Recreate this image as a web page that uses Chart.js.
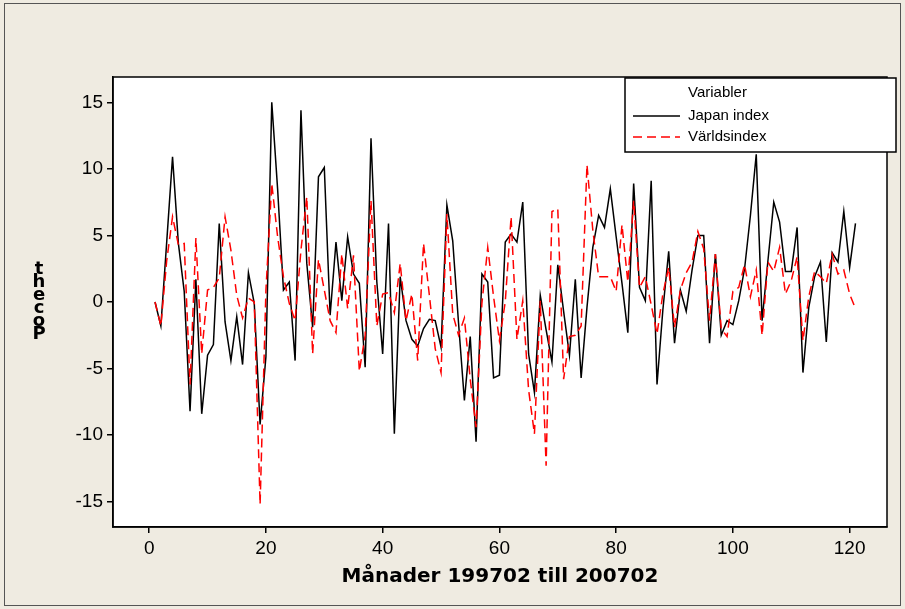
<!DOCTYPE html>
<html>
<head>
<meta charset="utf-8">
<script src="https://cdn.jsdelivr.net/npm/chart.js@4.4.0/dist/chart.umd.min.js"></script>
<style>
  html, body { margin: 0; padding: 0; background: #efebe1; }
  #wrap { width: 905px; height: 609px; }
</style>
</head>
<body>
<div id="wrap"><canvas id="chart" width="905" height="609"></canvas></div>
<script>
// ---------------- DATA ----------------
const months = Array.from({ length: 121 }, (_, i) => i + 1);

const japanIndex = [
  0, -1.8, 4.5, 10.9, 4.4, 0.8, -8.2, 1.7, -8.4, -4.0,
  -3.2, 5.9, -1.5, -4.4, -1.1, -4.7, 2.2, -0.1, -9.2, -4.1,
  15.0, 8.5, 0.9, 1.5, -4.4, 14.4, 2.9, -1.9, 9.4, 10.1,
  -1.0, 4.5, 0.1, 4.9, 2.1, 1.4, -4.9, 12.3, 1.5, -3.9,
  5.9, -9.9, 1.9, -1.4, -2.8, -3.3, -2.0, -1.3, -1.4, -3.4,
  7.3, 4.6, -1.6, -7.4, -2.6, -10.5, 2.1, 1.5, -5.7, -5.5,
  4.5, 5.1, 4.5, 7.5, -3.9, -6.8, 0.5, -2.1, -4.5, 2.8,
  -0.7, -4.0, 1.7, -5.7, -0.4, 4.1, 6.5, 5.6, 8.5, 4.9,
  1.4, -2.3, 8.9, 1.1, 0.1, 9.1, -6.2, -0.6, 3.8, -3.1,
  0.9, -0.7, 2.4, 5.0, 5.0, -3.1, 3.6, -2.5, -1.4, -1.7,
  0.1, 2.5, 6.5, 11.1, -1.4, 3.1, 7.5, 6.0, 2.3, 2.3,
  5.6, -5.3, -0.4, 1.9, 3.0, -3.0, 3.7, 3.0, 6.8, 2.6,
  5.9
];

const varldsIndex = [
  0, -1.8, 3.1, 6.4, 4.3, 4.4, -6.2, 4.8, -3.9, 0.9,
  1.1, 1.8, 6.4, 3.9, 0.5, -1.2, 0.3, 0.0, -15.2, 0.9,
  8.9, 4.9, 1.9, -0.1, -1.4, 3.9, 7.9, -3.9, 3.2, 0.9,
  -1.4, -2.3, 3.6, -0.5, 3.5, -5.2, -2.5, 7.6, -1.8, 0.6,
  0.7, -0.8, 2.9, -1.4, 0.6, -4.4, 4.4, 0.5, -3.5, -5.3,
  6.6, -0.9, -2.5, -1.2, -5.8, -9.4, -0.1, 4.1, 0.4, -2.9,
  0.0, 6.4, -2.8, 0.1, -6.6, -9.9, 0.1, -12.3, 6.8, 7.0,
  -5.8, -2.6, -2.5, -1.8, 10.3, 5.4, 1.9, 1.9, 1.9, 0.8,
  5.8, 1.5, 7.6, 1.1, 1.9, -0.2, -2.4, 0.6, 2.6, -1.9,
  0.9, 2.2, 3.0, 5.3, 4.0, -1.4, 3.6, -2.0, -2.6, 0.8,
  1.1, 2.8, 0.4, 2.4, -2.5, 3.0, 2.3, 4.1, 0.6, 1.6,
  3.4, -2.9, 0.4, 2.3, 1.9, 1.4, 3.6, 2.1, 2.4, 0.6,
  -0.5
];

const xTicks = [0, 20, 40, 60, 80, 100, 120];
const yTicks = [-15, -10, -5, 0, 5, 10, 15];
const seriesNames = ["Japan index", "Världsindex"];
const legendTitle = "Variabler";
const xTitle = "Månader 199702 till 200702";
const yTitleChars = ["t", "h", "e", "c", "o", "P"];

// ---------------- STYLE ----------------
const BG = "#efebe1";
const TICK_FONT = { family: "'Liberation Sans', Arial, sans-serif", size: 19 };

// ---------------- PLUGINS ----------------
const decorations = {
  id: "decorations",
  beforeDraw(chart) {
    const { ctx, chartArea: a } = chart;
    ctx.save();
    ctx.fillStyle = BG;
    ctx.fillRect(0, 0, chart.width, chart.height);
    ctx.strokeStyle = "#555";
    ctx.lineWidth = 1;
    ctx.strokeRect(4.5, 3.5, 896, 602);
    ctx.fillStyle = "#fff";
    ctx.fillRect(a.left, a.top, a.right - a.left, a.bottom - a.top);
    ctx.restore();
  },
  afterDraw(chart) {
    const { ctx, chartArea: a } = chart;
    ctx.save();
    // frame
    ctx.strokeStyle = "#000";
    ctx.lineWidth = 1.5;
    ctx.strokeRect(a.left, a.top, a.right - a.left, a.bottom - a.top);

    // legend box
    const lx = 625, ly = 78, lw = 271, lh = 74;
    ctx.fillStyle = "#fff";
    ctx.fillRect(lx, ly, lw, lh);
    ctx.strokeRect(lx, ly, lw, lh);
    ctx.font = "15px 'Liberation Sans', Arial, sans-serif";
    ctx.textBaseline = "middle";
    ctx.textAlign = "left";
    ctx.fillStyle = "#000";
    ctx.fillText(legendTitle, 688, 93);
    const rows = [116, 137];
    chart.data.datasets.forEach((ds, i) => {
      ctx.beginPath();
      ctx.strokeStyle = ds.borderColor;
      ctx.lineWidth = 1.5;
      ctx.setLineDash(ds.borderDash || []);
      ctx.moveTo(633, rows[i]);
      ctx.lineTo(680, rows[i]);
      ctx.stroke();
      ctx.setLineDash([]);
      ctx.fillStyle = "#000";
      ctx.fillText(ds.label, 688, rows[i]);
    });

    // x title
    ctx.font = "bold 20px 'DejaVu Sans', sans-serif";
    ctx.textAlign = "center";
    ctx.fillText(xTitle, (a.left + a.right) / 2, 577);

    // y title (stacked glyphs)
    ctx.font = "bold 18px 'DejaVu Sans', sans-serif";
    yTitleChars.forEach((ch, k) => {
      ctx.fillText(ch, 39, 269 + k * 13);
    });
    ctx.restore();
  }
};

// ---------------- CHART ----------------
const ctx = document.getElementById("chart").getContext("2d");
new Chart(ctx, {
  type: "line",
  data: {
    datasets: [
      {
        label: seriesNames[0],
        data: months.map((m, i) => ({ x: m, y: japanIndex[i] })),
        borderColor: "#000000",
        borderWidth: 1.5,
        pointRadius: 0,
        tension: 0,
        order: 2
      },
      {
        label: seriesNames[1],
        data: months.map((m, i) => ({ x: m, y: varldsIndex[i] })),
        borderColor: "#ff0000",
        borderWidth: 1.5,
        borderDash: [9, 5],
        pointRadius: 0,
        tension: 0,
        order: 1
      }
    ]
  },
  options: {
    responsive: false,
    animation: false,
    events: [],
    layout: { padding: { left: 0, right: 18, top: 77, bottom: 0 } },
    plugins: { legend: { display: false }, tooltip: { enabled: false } },
    scales: {
      x: {
        type: "linear",
        min: -6.2,
        max: 126.4,
        afterFit: s => { s.height = 82; },
        afterBuildTicks: s => { s.ticks = xTicks.map(v => ({ value: v })); },
        grid: { drawOnChartArea: false, drawTicks: true, tickLength: 6, color: "#000", lineWidth: 1.5 },
        border: { display: true, color: "#000", width: 1.5 },
        ticks: { color: "#000", font: TICK_FONT, padding: 4, maxRotation: 0, autoSkip: false }
      },
      y: {
        min: -16.9,
        max: 16.9,
        afterFit: s => { s.width = 113; },
        afterBuildTicks: s => { s.ticks = yTicks.map(v => ({ value: v })); },
        grid: { drawOnChartArea: false, drawTicks: true, tickLength: 6, color: "#000", lineWidth: 1.5 },
        border: { display: true, color: "#000", width: 1.5 },
        ticks: { color: "#000", font: TICK_FONT, padding: 4 }
      }
    }
  },
  plugins: [decorations]
});
</script>
</body>
</html>
